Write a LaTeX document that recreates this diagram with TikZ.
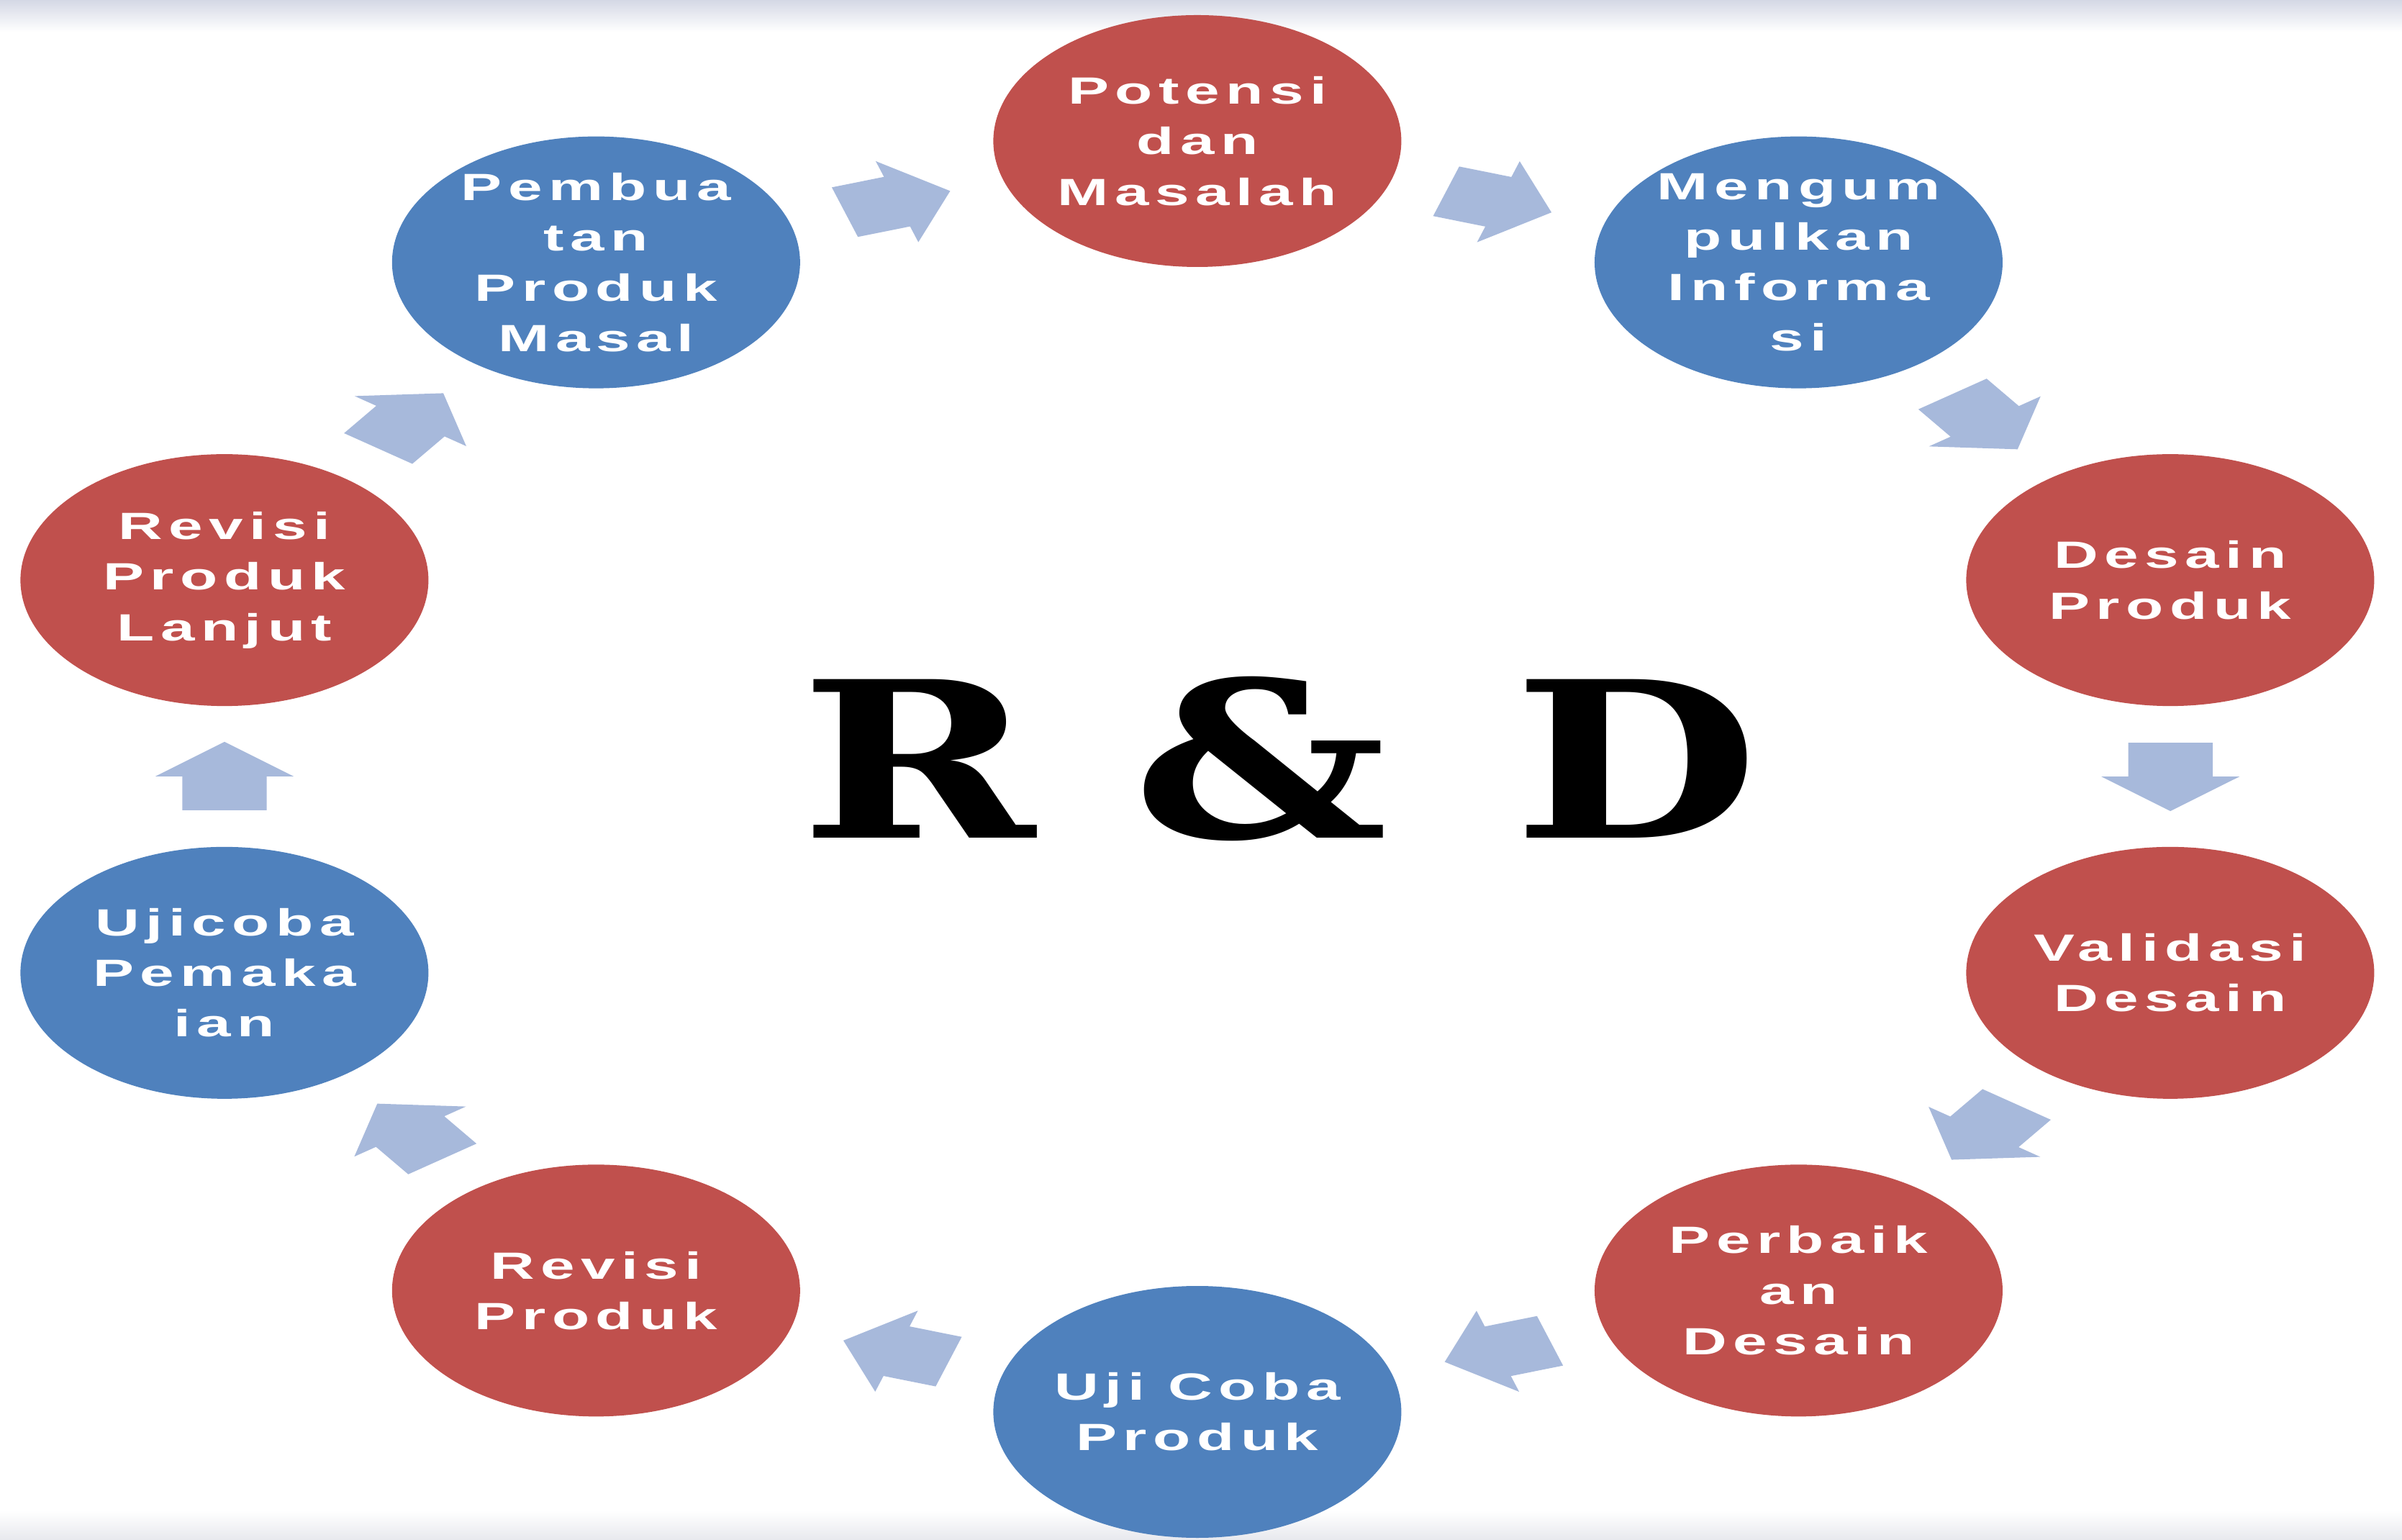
\documentclass[tikz,border=0pt]{standalone}
\usepackage{fontspec}
\setmainfont{Liberation Sans}
\newfontfamily\stagefont{Liberation Sans}[LetterSpace=10]
\newfontfamily\rdfont{DejaVu Serif}[FakeStretch=1.3]
\usetikzlibrary{calc,shapes.arrows}
\definecolor{stagered}{RGB}{192,80,77}
\definecolor{stageblue}{RGB}{79,129,189}
\definecolor{arrowblue}{RGB}{167,185,219}
\definecolor{topgray}{RGB}{212,216,229}
\definecolor{botgray}{RGB}{232,233,238}

\begin{document}
\begin{tikzpicture}[xscale=1.62,
	stage/.style={circle, minimum size=3.5cm, inner sep=0pt, transform shape, text=white, align=center,
		font=\stagefont\bfseries\fontsize{15}{20}\selectfont},
	flow/.style={single arrow, fill=arrowblue, inner xsep=0pt, inner ysep=.355cm, minimum height=.95cm,
		single arrow head extend=.23cm, single arrow tip angle=102, transform shape}]
	\useasboundingbox (0,0) rectangle (20.605,21.39);
	\shade[top color=topgray, bottom color=white] (0,20.95) rectangle (20.605,21.39);
	\shade[top color=white, bottom color=botgray] (0,0) rectangle (20.605,.4);
	\coordinate (O) at (10.27,10.6);
	\foreach \i/\c/\t in {1/stagered/Potensi\\dan\\Masalah, 2/stageblue/Mengum\\pulkan\\Informa\\si,
		3/stagered/Desain\\Produk, 4/stagered/Validasi\\Desain, 5/stagered/Perbaik\\an\\Desain,
		6/stageblue/Uji Coba\\Produk, 7/stagered/Revisi\\Produk, 8/stageblue/Ujicoba\\Pemaka\\ian,
		9/stagered/Revisi\\Produk\\Lanjut, 10/stageblue/Pembua\\tan\\Produk\\Masal}
		\node[stage, fill=\c] (s\i) at ($(O)+({90-36*(\i-1)}:8.775 and 8.83)$) {\t};
	\foreach \i [evaluate=\i as \j using {int(mod(\i,10)+1)}] in {1,...,10}
		\node[flow, rotate={-18-36*(\i-1)}, xshift=-.14cm] (a\i) at ($(s\i)!.5!(s\j)$) {};
	\node[anchor=base, font=\rdfont\bfseries\fontsize{86}{86}\selectfont] (rd) at (10.98,9.74)
		{R\hspace{1.35cm}\&\hspace{1.75cm}D};
\end{tikzpicture}
\end{document}
